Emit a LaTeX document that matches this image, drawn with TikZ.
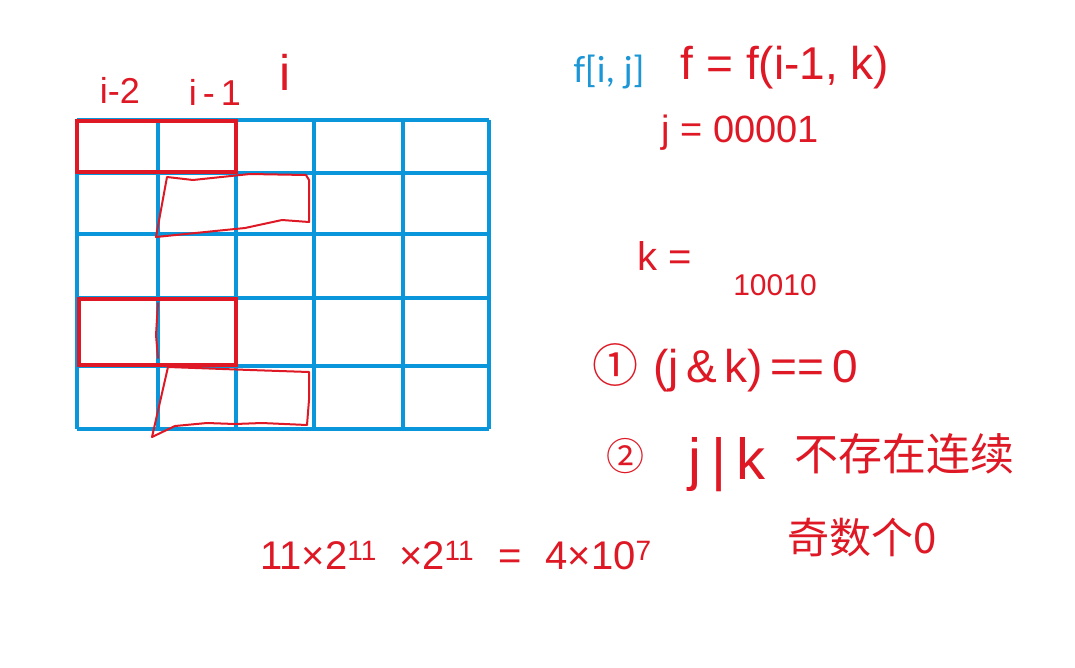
\documentclass[tikz,border=0pt]{standalone}
\usepackage{fontspec}
\setmainfont{Liberation Sans}
\newfontfamily\cjkfont{Noto Sans CJK SC}
\newfontfamily\carlitofont{Carlito}
\newcommand\setfs[1]{\fontsize{#1}{#1}\selectfont}
\definecolor{gridblue}{RGB}{10,150,218}
\definecolor{inkred}{RGB}{222,24,36}
\definecolor{txtblue}{RGB}{28,150,212}
\tikzset{
  gridline/.style={draw=gridblue,line width=4pt},
  redbox/.style={draw=inkred,line width=4pt},
  redhand/.style={draw=inkred,line width=2pt,line join=round,line cap=round},
  hw/.style={text=inkred,inner sep=0pt,anchor=center},
}
\begin{document}
\begin{tikzpicture}[x=1pt,y=-1pt]
\useasboundingbox (0,0) rectangle (1075,667);
% grid
\foreach \x in {77,158,236,314,403,489} \draw[gridline] (\x,120) -- (\x,429);
\foreach \y in {120,173,234,298,366,429} \draw[gridline] (77,\y) -- (489,\y);
% red rectangles
\draw[redbox] (77,121) rectangle (236,172);
\draw[redbox] (79,299) rectangle (236,365);
% hand-drawn shapes
\draw[redhand] (167,177) -- (193,180) -- (250,174) -- (306,175) -- (309,180) -- (309,222)
  -- (282,220) -- (245,228) -- (225,230) -- (156,237) -- cycle;
\draw[redhand] (168,367) -- (250,370) -- (309,372) -- (309,400) -- (307,425)
  -- (262,423) -- (235,424) -- (207,423) -- (175,426) -- (152,437) -- cycle;
\draw[redhand] (158,303) -- (156,335) -- (158,358);
% column labels
\node[hw,font=\setfs{36}] (lab2) at (120,90) {i-2};
\node[hw,font=\setfs{36}] (lab1) at (215,92) {i\,-\,1};
\node[hw,font=\setfs{50}] (lab0) at (285,72) {i};
% right side
\node[text=txtblue,inner sep=0pt,font=\carlitofont\setfs{38}] (fij) at (609,72) {f[i, j]};
\node[hw,font=\setfs{46}] (rec) at (785,68) {f = f(i-1, k)};
\node[hw,font=\setfs{38}] (jv) at (740,133) {j = 00001};
\node[hw,font=\setfs{40}] (keq) at (665,256) {k =};
\node[hw,font=\setfs{30}] (kv) at (775,285) {10010};
\node[hw,font=\setfs{46}] (c1) at (725,368) {{\cjkfont ①}\,\,(j\,\&\,k)\,==\,0};
\node[hw,font=\cjkfont\setfs{38}] (c2n) at (625,456) {②};
\node[hw,font=\setfs{58}] (c2a) at (727,465) {j\,|\,k};
\node[hw,font=\cjkfont\setfs{44}] (c2b) at (904,454) {不存在连续};
\node[hw,font=\cjkfont\setfs{42}] (c2c) at (862,538) {奇数个0};
% bottom
\node[hw,font=\setfs{40}] (calc) at (456,556) {11×2\textsuperscript{11}\hspace{22pt}×2\textsuperscript{11}\hspace{24pt}=\hspace{24pt}4×10\textsuperscript{7}};
\end{tikzpicture}
\end{document}
